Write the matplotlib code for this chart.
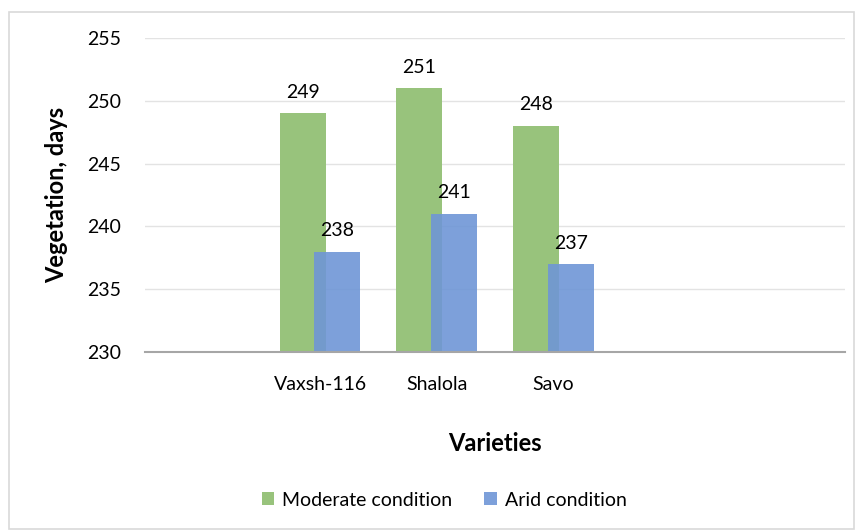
import matplotlib
matplotlib.use("Agg")
import matplotlib.pyplot as plt
from matplotlib.patches import Rectangle
import numpy as np

plt.rcParams["font.family"] = ["Lato", "DejaVu Sans"]

# data
categories = ["", "Vaxsh-116", "Shalola", "Savo", "", ""]
moderate = [np.nan, 249, 251, 248, np.nan, np.nan]
arid = [np.nan, 238, 241, 237, np.nan, np.nan]

GREEN = "#98c37c"
BLUE = "#6f96d6"

fig = plt.figure(figsize=(8.59, 5.30), dpi=100)
ax = fig.add_axes([0.1688, 0.3358, 0.815, 0.5925])

# outer chart frame
fig.patches.append(Rectangle((9 / 859, 0.002), 845 / 859, 1 - 12 / 530 - 0.002,
                             transform=fig.transFigure, fill=False,
                             edgecolor="#d9d9d9", linewidth=1.2))

x = np.arange(len(categories))
w = 0.394
off = 0.148
ax.bar(x - off, moderate, width=w, color=GREEN, zorder=2,
       label="Moderate condition")
ax.bar(x + off, arid, width=w, color=BLUE, alpha=0.9, zorder=3,
       label="Arid condition")

for xi, v in zip(x, moderate):
    if not np.isnan(v):
        ax.text(xi - off, v + 1.0, f"{v:.0f}", ha="center", va="bottom", fontsize=14)
for xi, v in zip(x, arid):
    if not np.isnan(v):
        ax.text(xi + off, v + 1.0, f"{v:.0f}", ha="center", va="bottom", fontsize=14)

ax.set_ylim(230, 255)
ax.set_xlim(-0.5, len(categories) - 0.5)
ax.set_yticks(range(230, 256, 5))
ax.set_xticks(x)
ax.set_xticklabels(categories)
ax.tick_params(axis="both", length=0, labelsize=14)
ax.tick_params(axis="x", pad=17)
ax.tick_params(axis="y", pad=17)
ax.grid(axis="y", color="#e3e3e3", linewidth=1, zorder=0)
for s in ["top", "right", "left"]:
    ax.spines[s].set_visible(False)
ax.spines["bottom"].set_color("#a6a6a6")
ax.spines["bottom"].set_linewidth(1.5)
ax.spines["bottom"].set_zorder(4)

ax.set_ylabel("Vegetation, days", fontsize=17, fontweight="bold", labelpad=14)
ax.set_xlabel("Varieties", fontsize=17, fontweight="bold", labelpad=28)

fig.legend(loc="center", bbox_to_anchor=(444 / 859, 1 - 500 / 530), ncol=2,
           frameon=False, fontsize=14, handlelength=0.65, handleheight=0.65,
           columnspacing=1.65, handletextpad=0.4)

fig.savefig("out.png", dpi=100)
